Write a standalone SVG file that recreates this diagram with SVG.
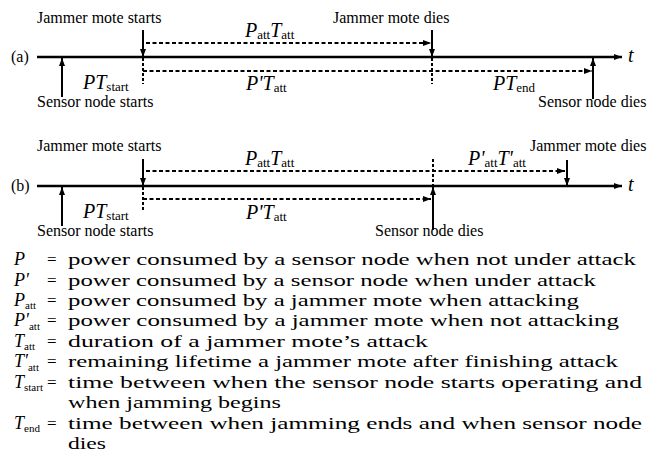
<svg xmlns="http://www.w3.org/2000/svg" width="660" height="459" viewBox="0 0 660 459">
<style>
.lab{font-family:"Liberation Serif",serif;font-size:16px;fill:#000}
.m{font-family:"Liberation Serif",serif;font-size:20px;font-style:italic;fill:#000}
.sub{font-family:"Liberation Serif",serif;font-size:13px;font-style:normal}
.axis{stroke:#000;stroke-width:2.5;fill:none}
.ev{stroke:#000;stroke-width:2;fill:none}
.dash{stroke:#000;stroke-width:2;fill:none;stroke-dasharray:4 2.5}
.dot{stroke:#000;stroke-width:2;fill:none;stroke-dasharray:3 2}
.lg{font-family:"Liberation Serif",serif;font-size:17px;fill:#000}
.lgi{font-family:"Liberation Serif",serif;font-size:18px;font-style:italic;fill:#000}
.lgs{font-size:11px;font-style:normal}
</style>
<defs>
<marker id="ah" markerUnits="userSpaceOnUse" markerWidth="8" markerHeight="6" refX="8" refY="3" orient="auto">
<path d="M0,0 L8,3 L0,6 Z" fill="#000"/>
</marker>
</defs>

<g id="connectors">
<!-- (a) -->
<line class="axis" x1="37" y1="57" x2="622" y2="57" marker-end="url(#ah)"/>
<line class="ev" x1="143" y1="30" x2="143" y2="57" marker-end="url(#ah)"/>
<line class="dot" x1="143" y1="58" x2="143" y2="84"/>
<line class="dash" x1="146" y1="43" x2="431" y2="43" marker-end="url(#ah)"/>
<line class="dash" x1="143" y1="71" x2="592" y2="71" marker-end="url(#ah)"/>
<line class="ev" x1="432" y1="30" x2="432" y2="57" marker-end="url(#ah)"/>
<line class="dot" x1="432" y1="58" x2="432" y2="84"/>
<line class="ev" x1="62" y1="97" x2="62" y2="58" marker-end="url(#ah)"/>
<line class="ev" x1="593" y1="99" x2="593" y2="58" marker-end="url(#ah)"/>
<!-- (b) -->
<line class="axis" x1="37" y1="186" x2="622" y2="186" marker-end="url(#ah)"/>
<line class="ev" x1="143" y1="159" x2="143" y2="186" marker-end="url(#ah)"/>
<line class="dot" x1="143" y1="187" x2="143" y2="211"/>
<line class="dash" x1="146" y1="171" x2="565" y2="171" marker-end="url(#ah)"/>
<line class="dash" x1="143" y1="199" x2="431" y2="199" marker-end="url(#ah)"/>
<line class="dot" x1="433" y1="159" x2="433" y2="185"/>
<line class="ev" x1="433" y1="230" x2="433" y2="187" marker-end="url(#ah)"/>
<line class="ev" x1="567" y1="160" x2="567" y2="186" marker-end="url(#ah)"/>
<line class="ev" x1="62" y1="226" x2="62" y2="187" marker-end="url(#ah)"/>
</g>

<g id="diagram-a">
<text class="lab" x="11" y="62" font-size="15">(a)</text>
<text class="m" x="628" y="62" font-size="15">t</text>
<text class="lab" x="37" y="23">Jammer mote starts</text>
<text class="lab" x="333" y="23">Jammer mote dies</text>
<text class="m" x="245" y="37">P<tspan class="sub" dy="2">att</tspan><tspan dy="-2">T</tspan><tspan class="sub" dy="2">att</tspan></text>
<text class="m" x="83" y="89">PT<tspan class="sub" dy="2">start</tspan></text>
<text class="m" x="246" y="90">P'T<tspan class="sub" dy="2">att</tspan></text>
<text class="m" x="493" y="90">PT<tspan class="sub" dy="2">end</tspan></text>
<text class="lab" x="37" y="107">Sensor node starts</text>
<text class="lab" x="538" y="107">Sensor node dies</text>
</g>

<g id="diagram-b">
<text class="lab" x="11" y="191" font-size="15">(b)</text>
<text class="m" x="628" y="191" font-size="15">t</text>
<text class="lab" x="37" y="151">Jammer mote starts</text>
<text class="lab" x="530" y="151">Jammer mote dies</text>
<text class="m" x="245" y="165">P<tspan class="sub" dy="2">att</tspan><tspan dy="-2">T</tspan><tspan class="sub" dy="2">att</tspan></text>
<text class="m" x="468" y="165">P'<tspan class="sub" dy="2">att</tspan><tspan dy="-2">T'</tspan><tspan class="sub" dy="2">att</tspan></text>
<text class="m" x="83" y="218">PT<tspan class="sub" dy="2">start</tspan></text>
<text class="m" x="246" y="219">P'T<tspan class="sub" dy="2">att</tspan></text>
<text class="lab" x="37" y="236">Sensor node starts</text>
<text class="lab" x="375" y="236">Sensor node dies</text>
</g>

<g id="legend">
<text class="lgi" x="14" y="265">P</text>
<text class="lgi" x="14" y="286">P′</text>
<text class="lgi" x="14" y="306">P<tspan class="lgs" dy="3">att</tspan></text>
<text class="lgi" x="14" y="326">P′<tspan class="lgs" dy="4">att</tspan></text>
<text class="lgi" x="14" y="347">T<tspan class="lgs" dy="3">att</tspan></text>
<text class="lgi" x="14" y="367">T′<tspan class="lgs" dy="4">att</tspan></text>
<text class="lgi" x="14" y="388">T<tspan class="lgs" dy="3">start</tspan></text>
<text class="lgi" x="14" y="429">T<tspan class="lgs" dy="3">end</tspan></text>
<text class="lg" x="47" y="265">=</text>
<text class="lg" x="47" y="286">=</text>
<text class="lg" x="47" y="306">=</text>
<text class="lg" x="47" y="326">=</text>
<text class="lg" x="47" y="347">=</text>
<text class="lg" x="47" y="367">=</text>
<text class="lg" x="47" y="388">=</text>
<text class="lg" x="47" y="429">=</text>
<text class="lg" x="68" y="265" textLength="568" lengthAdjust="spacingAndGlyphs">power consumed by a sensor node when not under attack</text>
<text class="lg" x="68" y="286" textLength="528" lengthAdjust="spacingAndGlyphs">power consumed by a sensor node when under attack</text>
<text class="lg" x="68" y="306" textLength="511" lengthAdjust="spacingAndGlyphs">power consumed by a jammer mote when attacking</text>
<text class="lg" x="68" y="326" textLength="551" lengthAdjust="spacingAndGlyphs">power consumed by a jammer mote when not attacking</text>
<text class="lg" x="68" y="347" textLength="360" lengthAdjust="spacingAndGlyphs">duration of a jammer mote’s attack</text>
<text class="lg" x="68" y="367" textLength="550" lengthAdjust="spacingAndGlyphs">remaining lifetime a jammer mote after finishing attack</text>
<text class="lg" x="68" y="388" textLength="574" lengthAdjust="spacingAndGlyphs">time between when the sensor node starts operating and</text>
<text class="lg" x="68" y="408" textLength="213" lengthAdjust="spacingAndGlyphs">when jamming begins</text>
<text class="lg" x="68" y="429" textLength="574" lengthAdjust="spacingAndGlyphs">time between when jamming ends and when sensor node</text>
<text class="lg" x="68" y="449" textLength="38" lengthAdjust="spacingAndGlyphs">dies</text>
</g>
</svg>
